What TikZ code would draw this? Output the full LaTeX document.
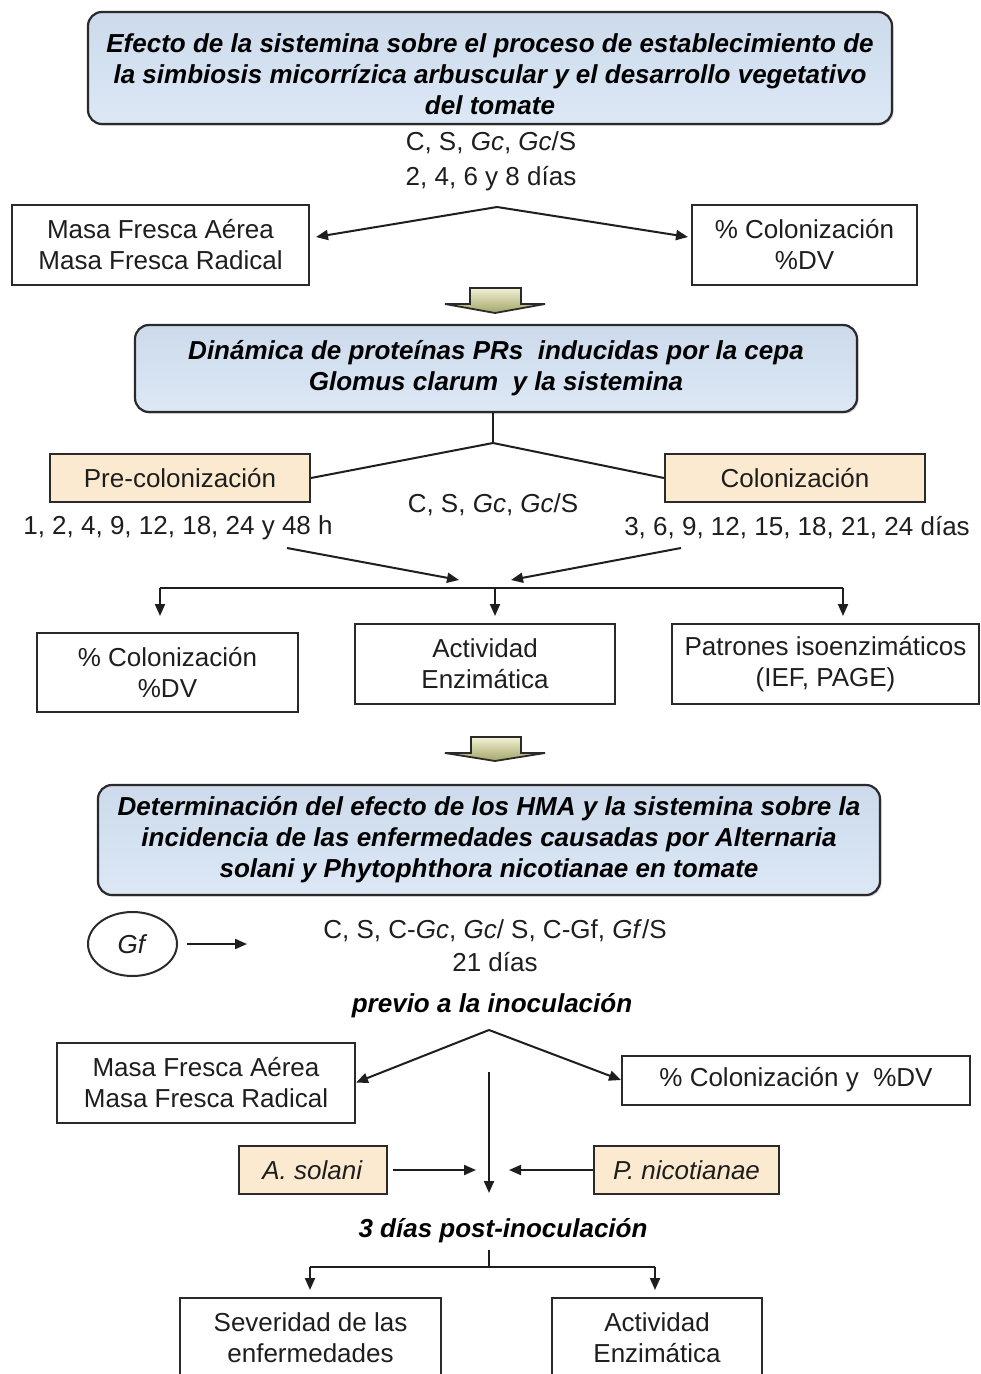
\documentclass[tikz,border=0pt]{standalone}
\usepackage{fontspec}
\setmainfont{Liberation Sans}
\usetikzlibrary{arrows.meta,shapes.geometric,shadows}
\definecolor{ink}{HTML}{1E1E1E}
\definecolor{boxline}{HTML}{2A2A2A}
\definecolor{bluetop}{HTML}{CCDAEB}
\definecolor{bluebot}{HTML}{DCE8F6}
\definecolor{beige}{HTML}{FBEAD0}
\definecolor{olivetop}{HTML}{F2F2D4}
\definecolor{olivebot}{HTML}{A4A46A}
\tikzset{
 txt/.style={font=\fontsize{13}{15.5}\selectfont, text=ink, align=center, inner sep=0pt},
 ttl/.style={font=\fontsize{13}{15.5}\selectfont\bfseries\itshape, text=black, align=center, inner sep=0pt},
 titlebox/.style={draw=boxline, line width=1.1pt, rounded corners=7pt, top color=bluetop, bottom color=bluebot, drop shadow={shadow xshift=0.8pt, shadow yshift=-0.8pt, opacity=0.35}},
 wbox/.style={txt, draw=boxline, line width=1pt, fill=white},
 bbox/.style={wbox, fill=beige},
 ln/.style={draw=ink, line width=1pt},
 arr/.style={ln, -{Triangle[length=6pt,width=5pt]}},
 blockarrow/.style={draw=boxline, line width=0.9pt, top color=olivetop, bottom color=olivebot},
}
\begin{document}
\begin{tikzpicture}[x=0.5pt,y=-0.5pt]
\useasboundingbox (0,0) rectangle (980,1374);
\fill[white] (0,0) rectangle (980,1374);
\clip (0,0) rectangle (980,1374);

% ---------- section 1
\node[titlebox, minimum width=402pt, minimum height=56pt] (b1) at (490,68) {};
\node[ttl] (b1t) at (490,74.5) {Efecto de la sistemina sobre el proceso de establecimiento de\\la simbiosis micorrízica arbuscular y el desarrollo vegetativo\\del tomate};
\node[txt] (trt1) at (491,143) {C, S, \textit{Gc}, \textit{Gc}/S};
\node[txt] (day1) at (491,179) {2, 4, 6 y 8 días};
\coordinate (ap1) at (497,207);
\node[wbox, minimum width=148.5pt, minimum height=40pt] (m1) at (160.5,245) {Masa Fresca Aérea\\Masa Fresca Radical};
\node[wbox, minimum width=112.5pt, minimum height=40pt] (c1) at (804.5,245) {\% Colonización\\\%DV};
\draw[arr] (ap1) -- ([xshift=3pt,yshift=4pt]m1.east);
\draw[arr] (ap1) -- ([xshift=-1.5pt,yshift=4pt]c1.west);

\path[blockarrow] (470,288) -- (521,288) -- (521,304) -- (545,304) -- (495,313) -- (445,304) -- (470,304) -- cycle;

% ---------- section 2
\node[titlebox, ttl, minimum width=361pt, minimum height=43.5pt] (b2) at (496,368.5) {Dinámica de proteínas PRs\ \ inducidas por la cepa\\Glomus clarum\ \ y la sistemina};
\coordinate (ap2) at (493,443);
\draw[ln] (ap2 |- b2.south) -- (ap2);
\node[bbox, minimum width=130pt, minimum height=24pt] (pre) at (180,478) {Pre-colonización};
\node[bbox, minimum width=130pt, minimum height=24pt] (col) at (795,478) {Colonización};
\draw[ln] (ap2) -- (pre.east);
\draw[ln] (ap2) -- (col.west);
\node[txt] (trt2) at (493,505) {C, S, \textit{Gc}, \textit{Gc}/S};
\node[txt] (h1) at (178,528) {1, 2, 4, 9, 12, 18, 24 y 48 h};
\node[txt] (d2) at (797,528) {3, 6, 9, 12, 15, 18, 21, 24 días};
\coordinate (s1) at (287,548); \coordinate (e1) at (459,580);
\coordinate (s2) at (681,548); \coordinate (e2) at (511,580);
\draw[arr] (s1) -- (e1);
\draw[arr] (s2) -- (e2);

\node[wbox, minimum width=130.5pt, minimum height=39.5pt] (r1) at (167.5,672.5) {\% Colonización\\\%DV};
\node[wbox, minimum width=130pt, minimum height=40pt] (r2) at (485,664) {Actividad\\Enzimática};
\node[wbox, minimum width=153.5pt, minimum height=40pt] (r3) at (825.5,664) {Patrones isoenzimáticos\\(IEF, PAGE)};
\coordinate (hl) at (495,588);
\coordinate (hlL) at (160,588);
\coordinate (hlR) at (843,588);
\draw[ln] (hlL) -- (hlR);
\draw[arr, shorten >=8pt] (hlL) -- (hlL |- r1.north);
\draw[arr, shorten >=3.5pt] (hl) -- (hl |- r2.north);
\draw[arr, shorten >=3.5pt] (hlR) -- (hlR |- r3.north);

\path[blockarrow] (471,737) -- (521,737) -- (521,753) -- (545,753) -- (495,761) -- (445,753) -- (471,753) -- cycle;

% ---------- section 3
\node[titlebox, ttl, minimum width=391pt, minimum height=55pt] (b3) at (489,840) {Determinación del efecto de los HMA y la sistemina sobre la\\incidencia de las enfermedades causadas por Alternaria\\solani y Phytophthora nicotianae en tomate};
\node[ellipse, draw=boxline, line width=1pt, minimum width=44.5pt, minimum height=32pt, txt] (gf) at (132.5,944) {\textit{Gf}};
\coordinate (gfa) at (247,944);
\draw[arr] ([xshift=4.5pt]gf.east) -- (gfa);
\node[txt] (trt3) at (495,931) {C, S, C-\textit{Gc}, \textit{Gc}/ S, C-Gf, \textit{Gf}/S};
\node[txt] (d3) at (495,962) {21 días};
\node[ttl] (prev) at (492,1006) {previo a la inoculación};
\coordinate (ap3) at (489,1030);
\node[wbox, minimum width=149pt, minimum height=40pt] (m3) at (206,1082.5) {Masa Fresca Aérea\\Masa Fresca Radical};
\node[wbox, minimum width=174pt, minimum height=24.5pt] (c3) at (796,1080) {\% Colonización y\ \ \%DV};
\draw[arr] (ap3) -- (m3.east);
\draw[arr] (ap3) -- (c3.west);
\coordinate (vs) at (489,1072); \coordinate (vt) at (489,1193);
\draw[arr] (vs) -- (vt);
\node[bbox, minimum width=74pt, minimum height=24pt] (as) at (312.5,1170) {\textit{A. solani}};
\node[bbox, minimum width=92.5pt, minimum height=24pt] (pn) at (686.5,1170) {\textit{P. nicotianae}};
\coordinate (aT) at (476,1170); \coordinate (pT) at (509,1170);
\draw[arr] ([xshift=2.5pt]as.east) -- (aT);
\draw[arr] (pn.west) -- (pT);
\node[ttl] (post) at (503,1231) {3 días post-inoculación};
\coordinate (bs) at (489,1250);
\coordinate (bj) at (489,1267);
\coordinate (bl) at (310,1267); \coordinate (br) at (655,1267);
\draw[ln] (bs) -- (bj);
\draw[ln] (bl) -- (br);
\node[wbox, minimum width=130.5pt, minimum height=39.5pt] (sev) at (310.5,1337.5) {Severidad de las\\enfermedades};
\node[wbox, minimum width=105pt, minimum height=39.5pt] (act) at (657,1337.5) {Actividad\\Enzimática};
\draw[arr, shorten >=3.5pt] (bl) -- (bl |- sev.north);
\draw[arr, shorten >=3.5pt] (br) -- (br |- act.north);
\end{tikzpicture}
\end{document}
